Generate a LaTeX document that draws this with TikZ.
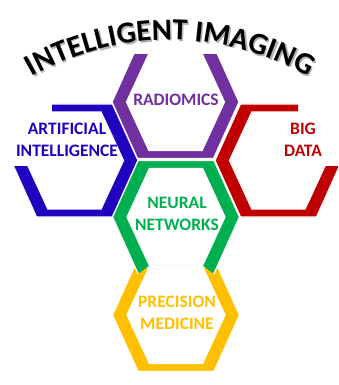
\documentclass[tikz,border=0pt]{standalone}
\usepackage{fontspec}
\setmainfont{Carlito}
\usetikzlibrary{decorations.text}
\definecolor{aiblue}{HTML}{2200C0}
\definecolor{radpurple}{HTML}{7030A0}
\definecolor{bigred}{HTML}{C00000}
\definecolor{nngreen}{HTML}{00B050}
\definecolor{pmyellow}{HTML}{FFC000}
\newcommand{\titlefont}{\fontsize{30.5}{30}\selectfont\bfseries}
\begin{document}
\begin{tikzpicture}[x=1pt,y=1pt,
    hexring/.style 2 args={insert path={(#1-63.5,#2)--(#1-38,#2+56.5)--(#1+38,#2+56.5)--(#1+63.5,#2)--(#1+38,#2-56.5)--(#1-38,#2-56.5)--cycle
      (#1-49,#2)--(#1-26.6,#2+48.5)--(#1+26.6,#2+48.5)--(#1+49,#2)--(#1+26.6,#2-48.5)--(#1-26.6,#2-48.5)--cycle}},
    ring/.style={even odd rule,draw=white,line width=1.2pt,fill=#1},
    label/.style={align=center,text=#1,inner sep=0pt,font=\fontsize{17.5}{22}\selectfont\bfseries}]
    \useasboundingbox(0,0)rectangle(338,-385);
    % hexagons
    \begin{scope}
        \clip(52,0)--(338,0)--(338,-385)--(0,-385)--(0,-166)--(52,-166)--cycle;
        \path[ring=aiblue,hexring={74.5}{-160.5}];
    \end{scope}
    \begin{scope}
        \clip(0,0)--(298,0)--(298,-166)--(338,-166)--(338,-385)--(0,-385)--cycle;
        \path[ring=bigred,hexring={278.5}{-160.5}];
    \end{scope}
    \begin{scope}
        \clip(0,-55)rectangle(338,-385);
        \path[ring=radpurple,hexring={175.5}{-102}];
    \end{scope}
    \begin{scope}
        \clip(0,-268)rectangle(338,-385);
        \path[ring=pmyellow,hexring={176}{-315}];
    \end{scope}
    \begin{scope}
        \clip(0,0)--(338,0)--(338,-274)--(214,-274)--(202.6,-265.5)--(149.4,-265.5)--(138,-274)--(0,-274)--cycle;
        \path[ring=nngreen,hexring={176}{-217}];
    \end{scope}
    % labels
    \node[label=radpurple](radiomics)at(176,-100){RADIOMICS};
    \node[label=aiblue](ai)at(67,-140){ARTIFICIAL\\INTELLIGENCE};
    \node[label=bigred](bigdata)at(303,-140){BIG\\DATA};
    \node[label=nngreen](neural)at(177,-214){NEURAL\\NETWORKS};
    \node[label=pmyellow](precision)at(177,-313){PRECISION\\MEDICINE};
    % title on arc
    \path[shift={(1.5,-1.5)},decorate,decoration={text along path,text align=center,text color=black!30,
        text={|\titlefont|INTELLIGENT IMAGING}}](170,-318)++(125:278)arc[start angle=125,end angle=55,radius=278];
    \path[decorate,decoration={text along path,text align=center,
        text={|\titlefont|INTELLIGENT IMAGING}}](170,-318)++(125:278)arc[start angle=125,end angle=55,radius=278];
\end{tikzpicture}
\end{document}
